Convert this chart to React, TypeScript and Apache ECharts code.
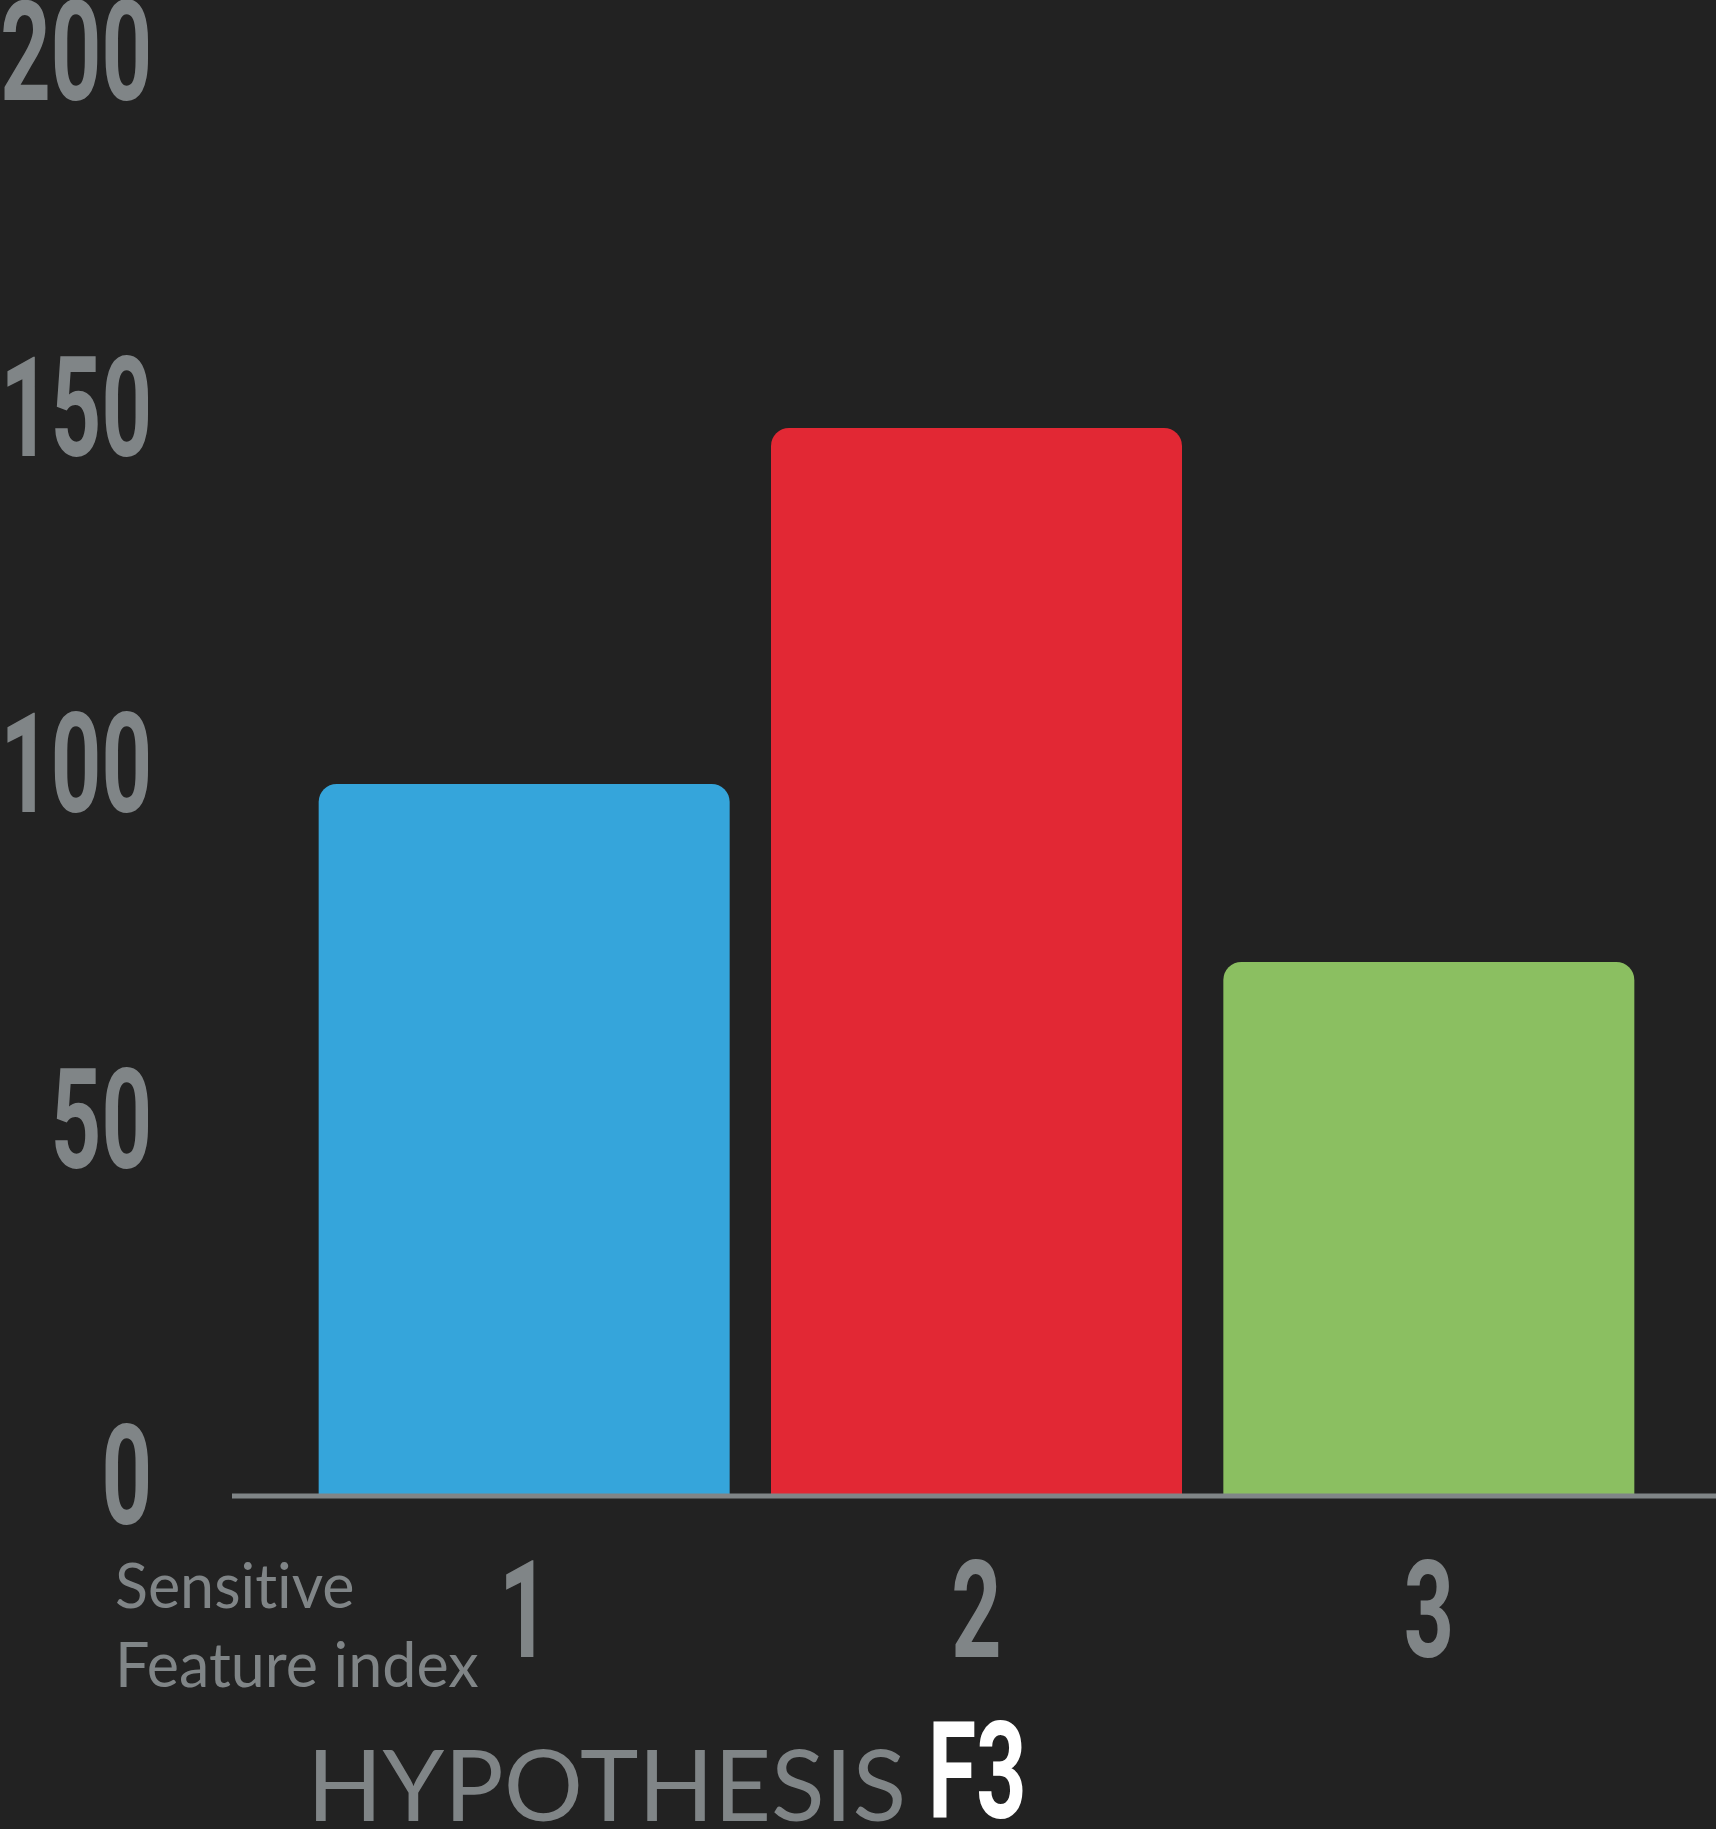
import React, { useEffect, useRef } from "react";
import * as echarts from "echarts";

const categories = ["1", "2", "3"];
const values = [100, 150, 75];
const barColors = ["#35A5DB", "#E22834", "#8BBF61"];
const yTicks = [0, 50, 100, 150, 200];
const axisTitleLines = ["Sensitive", "Feature index"];
const titleMain = "HYPOTHESIS";
const titleTag = "F3";

const BG = "#222222";
const GRAY = "#808587";
const CONDENSED = "Roboto, 'DejaVu Sans Condensed', sans-serif";
const HUMANIST = "Lato, 'Noto Sans', sans-serif";
const SQUEEZE = 0.65;
const SQUEEZE_Y = 0.63;

export default function App() {
  const ref = useRef<HTMLDivElement>(null);
  useEffect(() => {
    if (!ref.current) return;
    const chart = echarts.init(ref.current, undefined, { renderer: "svg" });
    chart.setOption({
      animation: false,
      backgroundColor: BG,
      grid: {
        left: 298,
        right: 61,
        top: 72,
        bottom: 333,
        containLabel: false,
        outerBoundsMode: "none",
      },
      xAxis: {
        type: "category",
        data: categories,
        axisLine: { show: false },
        axisTick: { show: false },
        axisLabel: { show: false },
      },
      yAxis: {
        type: "value",
        min: yTicks[0],
        max: yTicks[yTicks.length - 1],
        interval: yTicks[1] - yTicks[0],
        splitLine: { show: false },
        axisLine: { show: false },
        axisTick: { show: false },
        axisLabel: { show: false },
      },
      series: [
        {
          type: "bar",
          barWidth: 411,
          data: values.map((v, i) => ({
            value: v,
            itemStyle: { color: barColors[i], borderRadius: [18, 18, 0, 0] },
          })),
        },
      ],
    });

    const zeroY = chart.convertToPixel({ yAxisIndex: 0 }, yTicks[0]) as number;
    const yLabels = yTicks.map((t) => {
      const py = chart.convertToPixel({ yAxisIndex: 0 }, t) as number;
      return {
        type: "text",
        x: 152,
        y: py - 20,
        scaleX: SQUEEZE_Y,
        style: {
          text: String(t),
          x: 0,
          y: 0,
          fill: GRAY,
          font: `bold 140px ${CONDENSED}`,
          lineHeight: 100,
          textAlign: "right",
          textVerticalAlign: "middle",
        },
      };
    });
    const xLabels = categories.map((c, i) => {
      const px = chart.convertToPixel({ xAxisIndex: 0 }, i) as number;
      return {
        type: "text",
        x: px,
        y: zeroY + 115,
        scaleX: SQUEEZE,
        style: {
          text: c,
          x: 0,
          y: 0,
          fill: GRAY,
          font: `bold 135px ${CONDENSED}`,
          lineHeight: 100,
          textAlign: "center",
          textVerticalAlign: "middle",
        },
      };
    });

    chart.setOption({
      graphic: [
        {
          type: "line",
          z: 100,
          shape: { x1: 232, y1: zeroY, x2: 1716, y2: zeroY },
          style: { stroke: GRAY, lineWidth: 5 },
        },
        ...yLabels,
        ...xLabels,
        {
          type: "text",
          style: {
            text: axisTitleLines.join("\n"),
            x: 115,
            y: 1545,
            fill: GRAY,
            font: `61px ${HUMANIST}`,
            lineHeight: 79,
            textVerticalAlign: "top",
          },
        },
        {
          type: "text",
          style: {
            text: titleMain,
            x: 307,
            y: 1782,
            fill: GRAY,
            font: `99px ${HUMANIST}`,
            lineHeight: 80,
            textVerticalAlign: "middle",
          },
        },
        {
          type: "text",
          x: 928,
          y: 1772,
          scaleX: SQUEEZE,
          style: {
            text: titleTag,
            x: 0,
            y: 0,
            fill: "#FFFFFF",
            font: `bold 135px ${CONDENSED}`,
            lineHeight: 100,
            textAlign: "left",
            textVerticalAlign: "middle",
          },
        },
      ],
    });
    return () => chart.dispose();
  }, []);
  return (
    <>
      <style>{"svg text { font-variant-ligatures: none !important; font-feature-settings: 'liga' 0, 'clig' 0 !important; }"}</style>
      <div
        ref={ref}
        style={{
          position: "absolute",
          left: 0,
          top: 0,
          width: 1716,
          height: 1829,
        }}
      />
    </>
  );
}
